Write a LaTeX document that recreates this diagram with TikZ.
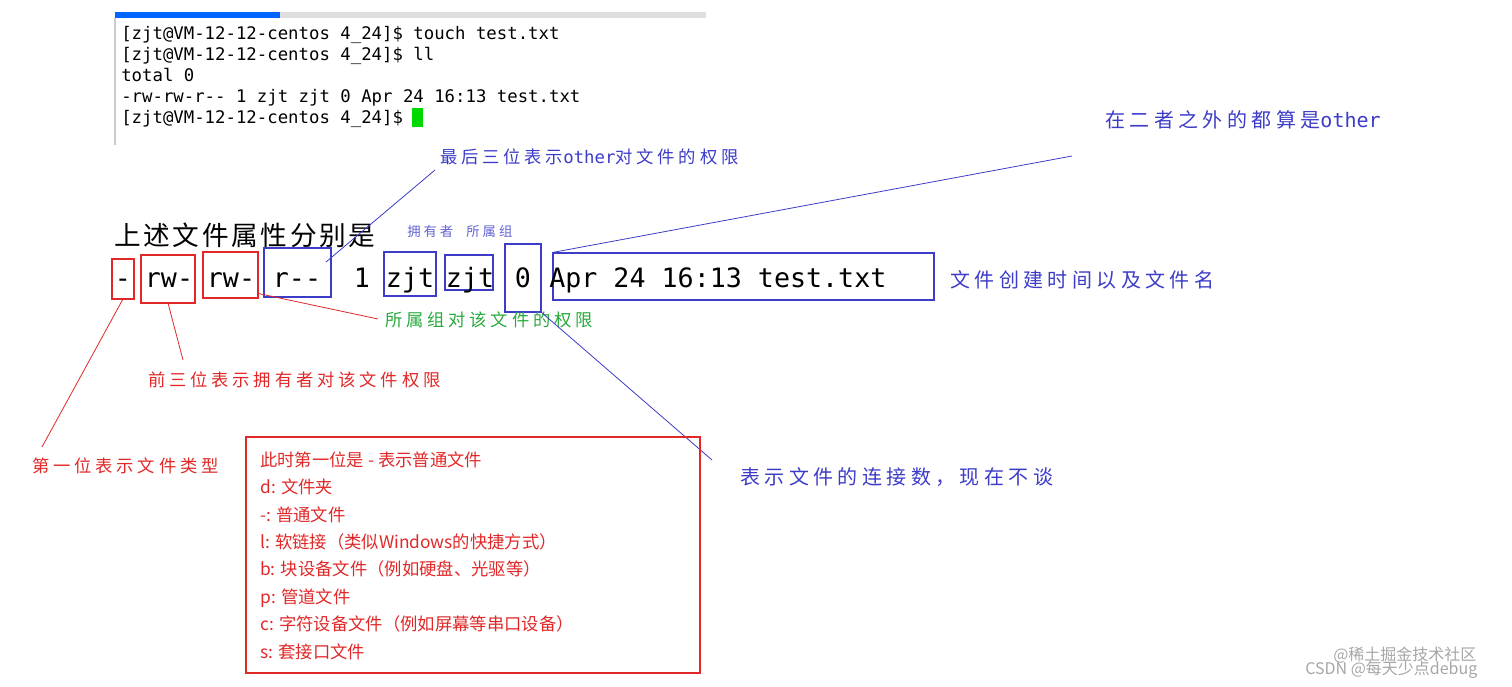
\documentclass[tikz,border=0pt]{standalone}
\usepackage{fontspec}
\usetikzlibrary{fit}
\newfontfamily\cjk[LetterSpace=22]{Noto Sans CJK SC}
\newfontfamily\cjkh[LetterSpace=10]{Noto Sans CJK SC}
\newfontfamily\cjkn{Noto Sans CJK SC}
\newfontfamily\mono{DejaVu Sans Mono}
\definecolor{tblue}{RGB}{60,60,200}
\definecolor{tred}{RGB}{225,40,40}
\definecolor{tgreen}{RGB}{40,170,60}
\tikzset{
 rbox/.style={draw=tred,inner sep=0pt,line width=0.8pt},
 bbox/.style={draw=tblue,inner sep=0pt,line width=0.8pt},
 tok/.style={font=\mono\fontsize{20}{20}\selectfont,inner sep=0pt,anchor=base},
 term/.style={font=\mono\fontsize{13}{13}\selectfont,inner sep=0pt,anchor=base west},
 lab/.style={inner sep=0pt,anchor=west},
 rl/.style={draw=tred,line width=0.6pt},
 bl/.style={draw=tblue,line width=0.6pt},
}
\begin{document}
\begin{tikzpicture}[x=0.75pt,y=-0.75pt]
\useasboundingbox (0,0) rectangle (1512,686);
% terminal
\fill[gray!25] (115,12) rectangle (706,18);
\fill[blue!60!cyan] (115,12) rectangle (280,18);
\draw[gray!40,line width=1pt] (115,18) -- (115,145);
\node[term] (t1) at (121,39) {[zjt@VM-12-12-centos 4\_24]\$ touch test.txt};
\node[term] (t2) at (121,60) {[zjt@VM-12-12-centos 4\_24]\$ ll};
\node[term] (t3) at (121,81) {total 0};
\node[term] (t4) at (121,102) {-rw-rw-r-- 1 zjt zjt 0 Apr 24 16:13 test.txt};
\node[term] (t5) at (121,123) {[zjt@VM-12-12-centos 4\_24]\$};
\fill[green!85!black] (412,108) rectangle (423,127);
% heading
\node[lab,anchor=base west,font=\cjkh\fontsize{20}{20}\selectfont] (hd) at (114,245) {上述文件属性分别是};
\node[lab,anchor=base west,font=\cjk\fontsize{10}{10}\selectfont,text=tblue!80] (own) at (407,236) {拥有者\quad 所属组};
% boxes
\node[rbox,fit={(112,259)(134,299)}] (b1) {};
\node[rbox,fit={(141,255)(195,303)}] (b2) {};
\node[rbox,fit={(203,252)(258,298)}] (b3) {};
\node[bbox,fit={(264,248)(331,297)}] (b4) {};
\node[bbox,fit={(384,252)(436,296)}] (b5) {};
\node[bbox,fit={(445,255)(493,290)}] (b6) {};
\node[bbox,fit={(505,244)(541,312)}] (b7) {};
\node[bbox,fit={(553,253)(934,300)}] (b8) {};
% tokens
\node[tok] (k1) at (123,287) {-};
\node[tok] (k2) at (169,287) {rw-};
\node[tok] (k3) at (231,287) {rw-};
\node[tok] (k4) at (297,287) {r--};
\node[tok] (k5) at (362,287) {1};
\node[tok] (k6) at (410,287) {zjt};
\node[tok] (k7) at (470,287) {zjt};
\node[tok] (k8) at (523,287) {0};
\node[tok,anchor=base west] (k9) at (549,287) {Apr 24 16:13 test.txt};
% labels
\node[lab,font=\cjk\fontsize{13}{13}\selectfont,text=tblue] (l1) at (440,157) {最后三位表示{\mono other}对文件的权限};
\node[lab,font=\cjk\fontsize{15}{15}\selectfont,text=tblue] (l2) at (1105,120) {在二者之外的都算是{\mono other}};
\node[lab,font=\cjk\fontsize{15}{15}\selectfont,text=tblue] (l3) at (950,280) {文件创建时间以及文件名};
\node[lab,font=\cjk\fontsize{13}{13}\selectfont,text=tgreen] (l4) at (385,320) {所属组对该文件的权限};
\node[lab,font=\cjk\fontsize{13}{13}\selectfont,text=tred] (l5) at (148,380) {前三位表示拥有者对该文件权限};
\node[lab,font=\cjk\fontsize{13}{13}\selectfont,text=tred] (l6) at (32,466) {第一位表示文件类型};
\node[lab,font=\cjk\fontsize{15}{15}\selectfont,text=tblue] (l7) at (740,477) {表示文件的连接数，现在不谈};
% connectors
\coordinate (c1) at (435,170);
\coordinate (c2) at (1072,156);
\coordinate (c4) at (378,319);
\coordinate (c5) at (183,360);
\coordinate (c6) at (42,447);
\coordinate (c7) at (712,460);
\draw[bl] (326,262) -- (c1);
\draw[bl] (b8.north west) -- (c2);
\draw[rl] (b3.south east) ++(0,-5) -- (c4);
\draw[rl] (168,303) -- (c5);
\draw[rl] (123,299) -- (c6);
\draw[bl] (541,312) -- (c7);
% red box
\node[rbox,fit={(246,437)(700,673)}] (rb) {};
\begin{scope}[every node/.style={lab,anchor=base west,font=\cjkn\fontsize{13}{13}\selectfont,text=tred}]
\node (r1) at (260,466) {此时第一位是 - 表示普通文件};
\node (r2) at (260,493) {d: 文件夹};
\node (r3) at (260,521) {-: 普通文件};
\node (r4) at (260,548) {l: 软链接（类似Windows的快捷方式）};
\node (r5) at (260,575) {b: 块设备文件（例如硬盘、光驱等）};
\node (r6) at (260,603) {p: 管道文件};
\node (r7) at (260,630) {c: 字符设备文件（例如屏幕等串口设备）};
\node (r8) at (260,658) {s: 套接口文件};
\end{scope}
% watermark
\node[lab,font=\cjkn\fontsize{12}{12}\selectfont,text=gray!70] (w1) at (1333,655) {@稀土掘金技术社区};
\node[lab,font=\cjkn\fontsize{12}{12}\selectfont,text=gray!70] (w2) at (1305,670) {CSDN @每天少点debug};
\end{tikzpicture}
\end{document}
